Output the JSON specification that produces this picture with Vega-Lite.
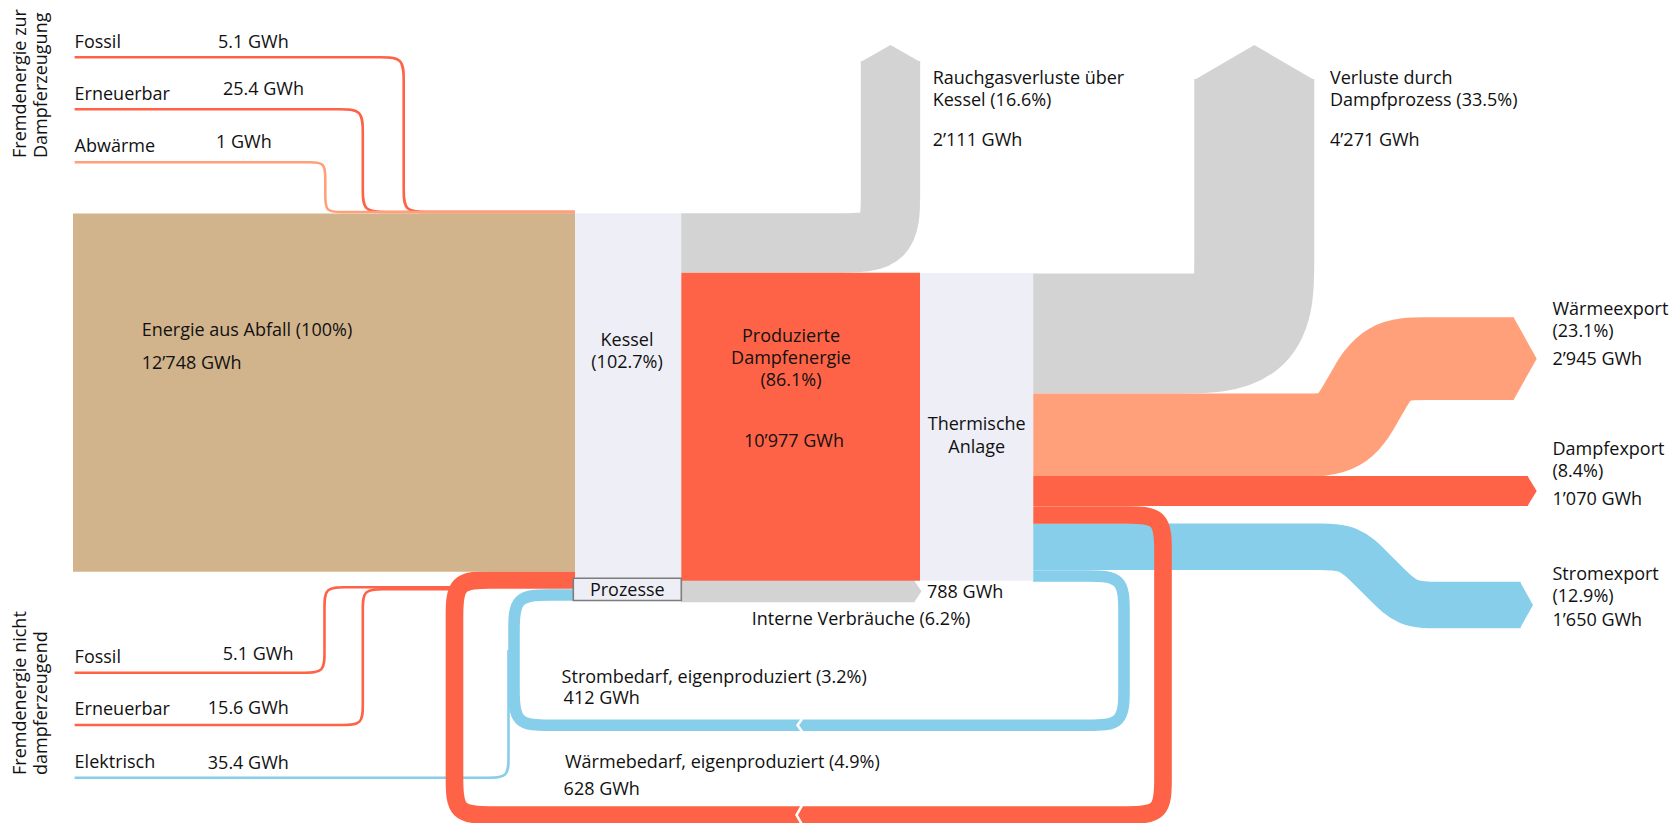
{
  "$schema": "https://vega.github.io/schema/vega-lite/v6.json",
  "width": 1676,
  "height": 823,
  "autosize": {"type": "none"},
  "padding": 0,
  "background": "white",
  "config": {"view": {"stroke": null}},
  "datasets": {
    "flows": [
      {"flow": "Rauchgas", "kind": "Verlust", "gwh": 2111, "i": 0, "x": 681, "y": 243},
      {"flow": "Rauchgas", "kind": "Verlust", "gwh": 2111, "i": 1, "x": 790.5, "y": 243},
      {"flow": "Rauchgas", "kind": "Verlust", "gwh": 2111, "i": 2, "x": 840.5, "y": 243},
      {"flow": "Rauchgas", "kind": "Verlust", "gwh": 2111, "i": 3, "x": 890.5, "y": 243},
      {"flow": "Rauchgas", "kind": "Verlust", "gwh": 2111, "i": 4, "x": 890.5, "y": 193},
      {"flow": "Rauchgas", "kind": "Verlust", "gwh": 2111, "i": 5, "x": 890.5, "y": 143},
      {"flow": "Rauchgas", "kind": "Verlust", "gwh": 2111, "i": 6, "x": 890.5, "y": 61},
      {"flow": "Dampfprozess", "kind": "Verlust", "gwh": 4271, "i": 0, "x": 1033, "y": 333.5},
      {"flow": "Dampfprozess", "kind": "Verlust", "gwh": 4271, "i": 1, "x": 1104.3, "y": 333.5},
      {"flow": "Dampfprozess", "kind": "Verlust", "gwh": 4271, "i": 2, "x": 1179.3, "y": 333.5},
      {"flow": "Dampfprozess", "kind": "Verlust", "gwh": 4271, "i": 3, "x": 1254.3, "y": 333.5},
      {"flow": "Dampfprozess", "kind": "Verlust", "gwh": 4271, "i": 4, "x": 1254.3, "y": 258.5},
      {"flow": "Dampfprozess", "kind": "Verlust", "gwh": 4271, "i": 5, "x": 1254.3, "y": 183.5},
      {"flow": "Dampfprozess", "kind": "Verlust", "gwh": 4271, "i": 6, "x": 1254.3, "y": 79},
      {"flow": "Waermeexport", "kind": "Waerme", "gwh": 2945, "i": 0, "x": 1033, "y": 435},
      {"flow": "Waermeexport", "kind": "Waerme", "gwh": 2945, "i": 1, "x": 1262.5, "y": 435},
      {"flow": "Waermeexport", "kind": "Waerme", "gwh": 2945, "i": 2, "x": 1302.5, "y": 435},
      {"flow": "Waermeexport", "kind": "Waerme", "gwh": 2945, "i": 3, "x": 1342.5, "y": 435},
      {"flow": "Waermeexport", "kind": "Waerme", "gwh": 2945, "i": 4, "x": 1362.5, "y": 400.4},
      {"flow": "Waermeexport", "kind": "Waerme", "gwh": 2945, "i": 5, "x": 1366.5, "y": 393.4},
      {"flow": "Waermeexport", "kind": "Waerme", "gwh": 2945, "i": 6, "x": 1386.5, "y": 358.7},
      {"flow": "Waermeexport", "kind": "Waerme", "gwh": 2945, "i": 7, "x": 1426.5, "y": 358.7},
      {"flow": "Waermeexport", "kind": "Waerme", "gwh": 2945, "i": 8, "x": 1466.5, "y": 358.7},
      {"flow": "Waermeexport", "kind": "Waerme", "gwh": 2945, "i": 9, "x": 1514, "y": 358.7},
      {"flow": "Dampfexport", "kind": "Dampf", "gwh": 1070, "i": 0, "x": 1033, "y": 491},
      {"flow": "Dampfexport", "kind": "Dampf", "gwh": 1070, "i": 1, "x": 1528, "y": 491},
      {"flow": "Stromexport", "kind": "Strom", "gwh": 1650, "i": 0, "x": 1033, "y": 546.8},
      {"flow": "Stromexport", "kind": "Strom", "gwh": 1650, "i": 1, "x": 1289.3, "y": 546.8},
      {"flow": "Stromexport", "kind": "Strom", "gwh": 1650, "i": 2, "x": 1319.3, "y": 546.8},
      {"flow": "Stromexport", "kind": "Strom", "gwh": 1650, "i": 3, "x": 1349.3, "y": 546.8},
      {"flow": "Stromexport", "kind": "Strom", "gwh": 1650, "i": 4, "x": 1370.5, "y": 568},
      {"flow": "Stromexport", "kind": "Strom", "gwh": 1650, "i": 5, "x": 1386.3, "y": 583.8},
      {"flow": "Stromexport", "kind": "Strom", "gwh": 1650, "i": 6, "x": 1407.5, "y": 605},
      {"flow": "Stromexport", "kind": "Strom", "gwh": 1650, "i": 7, "x": 1437.5, "y": 605},
      {"flow": "Stromexport", "kind": "Strom", "gwh": 1650, "i": 8, "x": 1467.5, "y": 605},
      {"flow": "Stromexport", "kind": "Strom", "gwh": 1650, "i": 9, "x": 1520.5, "y": 605},
      {"flow": "Interne", "kind": "Verlust", "gwh": 788, "i": 0, "x": 681, "y": 591.3},
      {"flow": "Interne", "kind": "Verlust", "gwh": 788, "i": 1, "x": 914.5, "y": 591.3}
    ],
    "loops": [
      {"flow": "Waermebedarf", "kind": "Dampf", "gwh": 628, "i": 0, "x": 1033, "y": 515},
      {"flow": "Waermebedarf", "kind": "Dampf", "gwh": 628, "i": 1, "x": 1091, "y": 515},
      {"flow": "Waermebedarf", "kind": "Dampf", "gwh": 628, "i": 2, "x": 1127, "y": 515},
      {"flow": "Waermebedarf", "kind": "Dampf", "gwh": 628, "i": 3, "x": 1163, "y": 515},
      {"flow": "Waermebedarf", "kind": "Dampf", "gwh": 628, "i": 4, "x": 1163, "y": 551},
      {"flow": "Waermebedarf", "kind": "Dampf", "gwh": 628, "i": 5, "x": 1163, "y": 587},
      {"flow": "Waermebedarf", "kind": "Dampf", "gwh": 628, "i": 6, "x": 1163, "y": 743},
      {"flow": "Waermebedarf", "kind": "Dampf", "gwh": 628, "i": 7, "x": 1163, "y": 779},
      {"flow": "Waermebedarf", "kind": "Dampf", "gwh": 628, "i": 8, "x": 1163, "y": 815},
      {"flow": "Waermebedarf", "kind": "Dampf", "gwh": 628, "i": 9, "x": 1127, "y": 815},
      {"flow": "Waermebedarf", "kind": "Dampf", "gwh": 628, "i": 10, "x": 1091, "y": 815},
      {"flow": "Waermebedarf", "kind": "Dampf", "gwh": 628, "i": 11, "x": 526.5, "y": 815},
      {"flow": "Waermebedarf", "kind": "Dampf", "gwh": 628, "i": 12, "x": 490.5, "y": 815},
      {"flow": "Waermebedarf", "kind": "Dampf", "gwh": 628, "i": 13, "x": 454.5, "y": 815},
      {"flow": "Waermebedarf", "kind": "Dampf", "gwh": 628, "i": 14, "x": 454.5, "y": 779},
      {"flow": "Waermebedarf", "kind": "Dampf", "gwh": 628, "i": 15, "x": 454.5, "y": 743},
      {"flow": "Waermebedarf", "kind": "Dampf", "gwh": 628, "i": 16, "x": 454.5, "y": 652},
      {"flow": "Waermebedarf", "kind": "Dampf", "gwh": 628, "i": 17, "x": 454.5, "y": 616},
      {"flow": "Waermebedarf", "kind": "Dampf", "gwh": 628, "i": 18, "x": 454.5, "y": 580},
      {"flow": "Waermebedarf", "kind": "Dampf", "gwh": 628, "i": 19, "x": 490.5, "y": 580},
      {"flow": "Waermebedarf", "kind": "Dampf", "gwh": 628, "i": 20, "x": 526.5, "y": 580},
      {"flow": "Waermebedarf", "kind": "Dampf", "gwh": 628, "i": 21, "x": 575, "y": 580},
      {"flow": "Strombedarf", "kind": "Strom", "gwh": 412, "i": 0, "x": 1033, "y": 576},
      {"flow": "Strombedarf", "kind": "Strom", "gwh": 412, "i": 1, "x": 1052, "y": 576},
      {"flow": "Strombedarf", "kind": "Strom", "gwh": 412, "i": 2, "x": 1088, "y": 576},
      {"flow": "Strombedarf", "kind": "Strom", "gwh": 412, "i": 3, "x": 1124, "y": 576},
      {"flow": "Strombedarf", "kind": "Strom", "gwh": 412, "i": 4, "x": 1124, "y": 612},
      {"flow": "Strombedarf", "kind": "Strom", "gwh": 412, "i": 5, "x": 1124, "y": 648},
      {"flow": "Strombedarf", "kind": "Strom", "gwh": 412, "i": 6, "x": 1124, "y": 653.3},
      {"flow": "Strombedarf", "kind": "Strom", "gwh": 412, "i": 7, "x": 1124, "y": 689.3},
      {"flow": "Strombedarf", "kind": "Strom", "gwh": 412, "i": 8, "x": 1124, "y": 725.3},
      {"flow": "Strombedarf", "kind": "Strom", "gwh": 412, "i": 9, "x": 1088, "y": 725.3},
      {"flow": "Strombedarf", "kind": "Strom", "gwh": 412, "i": 10, "x": 1052, "y": 725.3},
      {"flow": "Strombedarf", "kind": "Strom", "gwh": 412, "i": 11, "x": 586, "y": 725.3},
      {"flow": "Strombedarf", "kind": "Strom", "gwh": 412, "i": 12, "x": 550, "y": 725.3},
      {"flow": "Strombedarf", "kind": "Strom", "gwh": 412, "i": 13, "x": 514, "y": 725.3},
      {"flow": "Strombedarf", "kind": "Strom", "gwh": 412, "i": 14, "x": 514, "y": 689.3},
      {"flow": "Strombedarf", "kind": "Strom", "gwh": 412, "i": 15, "x": 514, "y": 660},
      {"flow": "Strombedarf", "kind": "Strom", "gwh": 412, "i": 16, "x": 514, "y": 631},
      {"flow": "Strombedarf", "kind": "Strom", "gwh": 412, "i": 17, "x": 514, "y": 595},
      {"flow": "Strombedarf", "kind": "Strom", "gwh": 412, "i": 18, "x": 550, "y": 595},
      {"flow": "Strombedarf", "kind": "Strom", "gwh": 412, "i": 19, "x": 575, "y": 595}
    ],
    "thin": [
      {"flow": "FossilOben", "kind": "Dampf", "i": 0, "x": 74.6, "y": 57.3},
      {"flow": "FossilOben", "kind": "Dampf", "i": 1, "x": 357.7, "y": 57.3},
      {"flow": "FossilOben", "kind": "Dampf", "i": 2, "x": 380.7, "y": 57.3},
      {"flow": "FossilOben", "kind": "Dampf", "i": 3, "x": 403.7, "y": 57.3},
      {"flow": "FossilOben", "kind": "Dampf", "i": 4, "x": 403.7, "y": 80.3},
      {"flow": "FossilOben", "kind": "Dampf", "i": 5, "x": 403.7, "y": 103.3},
      {"flow": "FossilOben", "kind": "Dampf", "i": 6, "x": 403.7, "y": 166},
      {"flow": "FossilOben", "kind": "Dampf", "i": 7, "x": 403.7, "y": 189},
      {"flow": "FossilOben", "kind": "Dampf", "i": 8, "x": 403.7, "y": 212},
      {"flow": "FossilOben", "kind": "Dampf", "i": 9, "x": 426.7, "y": 212},
      {"flow": "FossilOben", "kind": "Dampf", "i": 10, "x": 449.7, "y": 212},
      {"flow": "FossilOben", "kind": "Dampf", "i": 11, "x": 575, "y": 212},
      {"flow": "ErneuerbarOben", "kind": "Dampf", "i": 0, "x": 74.6, "y": 109.3},
      {"flow": "ErneuerbarOben", "kind": "Dampf", "i": 1, "x": 316.8, "y": 109.3},
      {"flow": "ErneuerbarOben", "kind": "Dampf", "i": 2, "x": 339.8, "y": 109.3},
      {"flow": "ErneuerbarOben", "kind": "Dampf", "i": 3, "x": 362.8, "y": 109.3},
      {"flow": "ErneuerbarOben", "kind": "Dampf", "i": 4, "x": 362.8, "y": 132.3},
      {"flow": "ErneuerbarOben", "kind": "Dampf", "i": 5, "x": 362.8, "y": 155.3},
      {"flow": "ErneuerbarOben", "kind": "Dampf", "i": 6, "x": 362.8, "y": 166},
      {"flow": "ErneuerbarOben", "kind": "Dampf", "i": 7, "x": 362.8, "y": 189},
      {"flow": "ErneuerbarOben", "kind": "Dampf", "i": 8, "x": 362.8, "y": 212},
      {"flow": "ErneuerbarOben", "kind": "Dampf", "i": 9, "x": 385.8, "y": 212},
      {"flow": "ErneuerbarOben", "kind": "Dampf", "i": 10, "x": 408.8, "y": 212},
      {"flow": "ErneuerbarOben", "kind": "Dampf", "i": 11, "x": 575, "y": 212},
      {"flow": "Abwaerme", "kind": "Waerme", "i": 0, "x": 74.6, "y": 162.3},
      {"flow": "Abwaerme", "kind": "Waerme", "i": 1, "x": 293.3, "y": 162.3},
      {"flow": "Abwaerme", "kind": "Waerme", "i": 2, "x": 309.3, "y": 162.3},
      {"flow": "Abwaerme", "kind": "Waerme", "i": 3, "x": 325.3, "y": 162.3},
      {"flow": "Abwaerme", "kind": "Waerme", "i": 4, "x": 325.3, "y": 178.3},
      {"flow": "Abwaerme", "kind": "Waerme", "i": 5, "x": 325.3, "y": 196},
      {"flow": "Abwaerme", "kind": "Waerme", "i": 6, "x": 325.3, "y": 212},
      {"flow": "Abwaerme", "kind": "Waerme", "i": 7, "x": 341.3, "y": 212},
      {"flow": "Abwaerme", "kind": "Waerme", "i": 8, "x": 357.3, "y": 212},
      {"flow": "Abwaerme", "kind": "Waerme", "i": 9, "x": 575, "y": 212},
      {"flow": "FossilUnten", "kind": "Dampf", "i": 0, "x": 74.6, "y": 672.7},
      {"flow": "FossilUnten", "kind": "Dampf", "i": 1, "x": 284.5, "y": 672.7},
      {"flow": "FossilUnten", "kind": "Dampf", "i": 2, "x": 304.5, "y": 672.7},
      {"flow": "FossilUnten", "kind": "Dampf", "i": 3, "x": 324.5, "y": 672.7},
      {"flow": "FossilUnten", "kind": "Dampf", "i": 4, "x": 324.5, "y": 652.7},
      {"flow": "FossilUnten", "kind": "Dampf", "i": 5, "x": 324.5, "y": 632.7},
      {"flow": "FossilUnten", "kind": "Dampf", "i": 6, "x": 324.5, "y": 627.3},
      {"flow": "FossilUnten", "kind": "Dampf", "i": 7, "x": 324.5, "y": 607.3},
      {"flow": "FossilUnten", "kind": "Dampf", "i": 8, "x": 324.5, "y": 587.3},
      {"flow": "FossilUnten", "kind": "Dampf", "i": 9, "x": 344.5, "y": 587.3},
      {"flow": "FossilUnten", "kind": "Dampf", "i": 10, "x": 364.5, "y": 587.3},
      {"flow": "FossilUnten", "kind": "Dampf", "i": 11, "x": 460, "y": 587.3},
      {"flow": "ErneuerbarUnten", "kind": "Dampf", "i": 0, "x": 74.6, "y": 725},
      {"flow": "ErneuerbarUnten", "kind": "Dampf", "i": 1, "x": 322.8, "y": 725},
      {"flow": "ErneuerbarUnten", "kind": "Dampf", "i": 2, "x": 342.8, "y": 725},
      {"flow": "ErneuerbarUnten", "kind": "Dampf", "i": 3, "x": 362.8, "y": 725},
      {"flow": "ErneuerbarUnten", "kind": "Dampf", "i": 4, "x": 362.8, "y": 705},
      {"flow": "ErneuerbarUnten", "kind": "Dampf", "i": 5, "x": 362.8, "y": 685},
      {"flow": "ErneuerbarUnten", "kind": "Dampf", "i": 6, "x": 362.8, "y": 629.3},
      {"flow": "ErneuerbarUnten", "kind": "Dampf", "i": 7, "x": 362.8, "y": 609.3},
      {"flow": "ErneuerbarUnten", "kind": "Dampf", "i": 8, "x": 362.8, "y": 589.3},
      {"flow": "ErneuerbarUnten", "kind": "Dampf", "i": 9, "x": 382.8, "y": 589.3},
      {"flow": "ErneuerbarUnten", "kind": "Dampf", "i": 10, "x": 402.8, "y": 589.3},
      {"flow": "ErneuerbarUnten", "kind": "Dampf", "i": 11, "x": 460, "y": 589.3},
      {"flow": "Elektrisch", "kind": "Strom", "i": 0, "x": 74.6, "y": 777.7},
      {"flow": "Elektrisch", "kind": "Strom", "i": 1, "x": 468.5, "y": 777.7},
      {"flow": "Elektrisch", "kind": "Strom", "i": 2, "x": 488.5, "y": 777.7},
      {"flow": "Elektrisch", "kind": "Strom", "i": 3, "x": 508.5, "y": 777.7},
      {"flow": "Elektrisch", "kind": "Strom", "i": 4, "x": 508.5, "y": 757.7},
      {"flow": "Elektrisch", "kind": "Strom", "i": 5, "x": 508.5, "y": 737.7},
      {"flow": "Elektrisch", "kind": "Strom", "i": 6, "x": 508.5, "y": 650}
    ],
    "heads": [
      {"flow": "Rauchgas", "kind": "Verlust", "i": 0, "x": 860.7, "y": 62},
      {"flow": "Rauchgas", "kind": "Verlust", "i": 1, "x": 890.5, "y": 45},
      {"flow": "Rauchgas", "kind": "Verlust", "i": 2, "x": 920.3, "y": 62},
      {"flow": "Dampfprozess", "kind": "Verlust", "i": 0, "x": 1194.3, "y": 80},
      {"flow": "Dampfprozess", "kind": "Verlust", "i": 1, "x": 1254.3, "y": 45},
      {"flow": "Dampfprozess", "kind": "Verlust", "i": 2, "x": 1314.3, "y": 80},
      {"flow": "Waermeexport", "kind": "Waerme", "i": 0, "x": 1513.5, "y": 317.3},
      {"flow": "Waermeexport", "kind": "Waerme", "i": 1, "x": 1536.7, "y": 358.7},
      {"flow": "Waermeexport", "kind": "Waerme", "i": 2, "x": 1513.5, "y": 400.1},
      {"flow": "Dampfexport", "kind": "Dampf", "i": 0, "x": 1527.5, "y": 476},
      {"flow": "Dampfexport", "kind": "Dampf", "i": 1, "x": 1536.7, "y": 491},
      {"flow": "Dampfexport", "kind": "Dampf", "i": 2, "x": 1527.5, "y": 506},
      {"flow": "Stromexport", "kind": "Strom", "i": 0, "x": 1520, "y": 581.8},
      {"flow": "Stromexport", "kind": "Strom", "i": 1, "x": 1533, "y": 605},
      {"flow": "Stromexport", "kind": "Strom", "i": 2, "x": 1520, "y": 628.2},
      {"flow": "Interne", "kind": "Verlust", "i": 0, "x": 914, "y": 580.2},
      {"flow": "Interne", "kind": "Verlust", "i": 1, "x": 921.5, "y": 591.3},
      {"flow": "Interne", "kind": "Verlust", "i": 2, "x": 914, "y": 602.4}
    ],
    "notches": [
      {"flow": "KerbeRot", "kind": "Trenner", "i": 0, "x": 802, "y": 805.5},
      {"flow": "KerbeRot", "kind": "Trenner", "i": 1, "x": 796.5, "y": 815},
      {"flow": "KerbeRot", "kind": "Trenner", "i": 2, "x": 802, "y": 824.5},
      {"flow": "KerbeBlau", "kind": "Trenner", "i": 0, "x": 802, "y": 719},
      {"flow": "KerbeBlau", "kind": "Trenner", "i": 1, "x": 797.5, "y": 725.3},
      {"flow": "KerbeBlau", "kind": "Trenner", "i": 2, "x": 802, "y": 731.6}
    ],
    "boxes": [
      {"node": "Energie aus Abfall", "kind": "Abfall", "x": 73, "x2": 575, "y": 213.5, "y2": 571.7},
      {"node": "Kessel", "kind": "Anlage", "x": 575, "x2": 681.3, "y": 213.3, "y2": 578.3},
      {"node": "Produzierte Dampfenergie", "kind": "Dampf", "x": 681.3, "x2": 920, "y": 272.7, "y2": 580.7},
      {"node": "Thermische Anlage", "kind": "Anlage", "x": 920, "x2": 1033.3, "y": 273, "y2": 580.7}
    ],
    "prozesse": [
      {"node": "Prozesse", "kind": "Anlage", "x": 573.3, "x2": 681.3, "y": 578.3, "y2": 600.5}
    ],
    "labels": [
      {"text": "Fossil", "x": 74.6, "y": 48.3},
      {"text": "5.1 GWh", "x": 218, "y": 48.3},
      {"text": "Erneuerbar", "x": 74.6, "y": 100},
      {"text": "25.4 GWh", "x": 223, "y": 94.5},
      {"text": "Abwärme", "x": 74.6, "y": 151.7},
      {"text": "1 GWh", "x": 216, "y": 148.3},
      {"text": "Fossil", "x": 74.6, "y": 663.3},
      {"text": "5.1 GWh", "x": 222.7, "y": 660},
      {"text": "Erneuerbar", "x": 74.6, "y": 715},
      {"text": "15.6 GWh", "x": 207.8, "y": 714},
      {"text": "Elektrisch", "x": 74.6, "y": 768.3},
      {"text": "35.4 GWh", "x": 207.8, "y": 769.3},
      {"text": "Energie aus Abfall (100%)", "x": 141.7, "y": 336},
      {"text": "12’748 GWh", "x": 141.7, "y": 369},
      {"text": "Rauchgasverluste über", "x": 932.7, "y": 84},
      {"text": "Kessel (16.6%)", "x": 932.7, "y": 106},
      {"text": "2’111 GWh", "x": 932.7, "y": 145.7},
      {"text": "Verluste durch", "x": 1330, "y": 84},
      {"text": "Dampfprozess (33.5%)", "x": 1330, "y": 106},
      {"text": "4’271 GWh", "x": 1330, "y": 145.7},
      {"text": "Wärmeexport", "x": 1552.5, "y": 315},
      {"text": "(23.1%)", "x": 1552.5, "y": 337.3},
      {"text": "2’945 GWh", "x": 1552.5, "y": 365},
      {"text": "Dampfexport", "x": 1552.5, "y": 455},
      {"text": "(8.4%)", "x": 1552.5, "y": 476.7},
      {"text": "1’070 GWh", "x": 1552.5, "y": 505},
      {"text": "Stromexport", "x": 1552.5, "y": 579.5},
      {"text": "(12.9%)", "x": 1552.5, "y": 601.5},
      {"text": "1’650 GWh", "x": 1552.5, "y": 625.7},
      {"text": "788 GWh", "x": 927, "y": 598},
      {"text": "Interne Verbräuche (6.2%)", "x": 751.7, "y": 624.5},
      {"text": "Strombedarf, eigenproduziert (3.2%)", "x": 561.6, "y": 683},
      {"text": "412 GWh", "x": 563.6, "y": 704},
      {"text": "Wärmebedarf, eigenproduziert (4.9%)", "x": 565, "y": 768.3},
      {"text": "628 GWh", "x": 563.6, "y": 795}
    ],
    "labelsCenter": [
      {"text": "Kessel", "x": 627, "y": 345.5},
      {"text": "(102.7%)", "x": 627, "y": 367.5},
      {"text": "Produzierte", "x": 791, "y": 341.5},
      {"text": "Dampfenergie", "x": 791, "y": 363.5},
      {"text": "(86.1%)", "x": 791, "y": 385.5},
      {"text": "10’977 GWh", "x": 794, "y": 447.3},
      {"text": "Thermische", "x": 976.7, "y": 429.5},
      {"text": "Anlage", "x": 976.7, "y": 452.7},
      {"text": "Prozesse", "x": 627.3, "y": 596}
    ],
    "labelsVertical": [
      {"text": "Fremdenergie zur", "x": 21, "y": 158},
      {"text": "Dampferzeugung", "x": 42, "y": 158},
      {"text": "Fremdenergie nicht", "x": 21, "y": 775},
      {"text": "dampferzeugend", "x": 42, "y": 775}
    ]
  },
  "encoding": {
    "x": {"field": "x", "type": "quantitative", "scale": {"domain": [0, 1676], "nice": false, "zero": false}, "axis": null},
    "y": {"field": "y", "type": "quantitative", "scale": {"domain": [0, 823], "nice": false, "zero": false, "reverse": true}, "axis": null}
  },
  "layer": [
    {
      "data": {"name": "flows"},
      "mark": {"type": "line", "interpolate": "basis", "strokeCap": "butt"},
      "encoding": {
        "detail": {"field": "flow", "type": "nominal"},
        "order": {"field": "i", "type": "quantitative"},
        "size": {"field": "gwh", "type": "quantitative", "scale": {"domain": [0, 12748], "range": [0, 358.2], "nice": false, "zero": true}, "legend": null},
        "color": {"field": "kind", "type": "nominal", "scale": {"domain": ["Verlust", "Waerme", "Dampf", "Strom", "Abfall", "Anlage", "Trenner"], "range": ["#d3d3d3", "#ffa07a", "#ff6347", "#87ceeb", "#d2b48c", "#eeeef6", "#ffffff"]}, "legend": null}
      }
    },
    {
      "data": {"name": "thin"},
      "mark": {"type": "line", "interpolate": "basis", "strokeWidth": 2.6},
      "encoding": {
        "detail": {"field": "flow", "type": "nominal"},
        "order": {"field": "i", "type": "quantitative"},
        "color": {"field": "kind", "type": "nominal", "scale": {"domain": ["Verlust", "Waerme", "Dampf", "Strom", "Abfall", "Anlage", "Trenner"], "range": ["#d3d3d3", "#ffa07a", "#ff6347", "#87ceeb", "#d2b48c", "#eeeef6", "#ffffff"]}, "legend": null}
      }
    },
    {
      "data": {"name": "loops"},
      "mark": {"type": "line", "interpolate": "basis", "strokeCap": "butt"},
      "encoding": {
        "detail": {"field": "flow", "type": "nominal"},
        "order": {"field": "i", "type": "quantitative"},
        "size": {"field": "gwh", "type": "quantitative", "scale": {"domain": [0, 12748], "range": [0, 358.2], "nice": false, "zero": true}, "legend": null},
        "color": {"field": "kind", "type": "nominal", "scale": {"domain": ["Verlust", "Waerme", "Dampf", "Strom", "Abfall", "Anlage", "Trenner"], "range": ["#d3d3d3", "#ffa07a", "#ff6347", "#87ceeb", "#d2b48c", "#eeeef6", "#ffffff"]}, "legend": null}
      }
    },
    {
      "data": {"name": "heads"},
      "mark": {"type": "line", "filled": true, "interpolate": "linear-closed"},
      "encoding": {
        "detail": {"field": "flow", "type": "nominal"},
        "order": {"field": "i", "type": "quantitative"},
        "color": {"field": "kind", "type": "nominal", "scale": {"domain": ["Verlust", "Waerme", "Dampf", "Strom", "Abfall", "Anlage", "Trenner"], "range": ["#d3d3d3", "#ffa07a", "#ff6347", "#87ceeb", "#d2b48c", "#eeeef6", "#ffffff"]}, "legend": null}
      }
    },
    {
      "data": {"name": "notches"},
      "mark": {"type": "line", "interpolate": "linear", "strokeWidth": 2.5},
      "encoding": {
        "detail": {"field": "flow", "type": "nominal"},
        "order": {"field": "i", "type": "quantitative"},
        "color": {"field": "kind", "type": "nominal", "scale": {"domain": ["Verlust", "Waerme", "Dampf", "Strom", "Abfall", "Anlage", "Trenner"], "range": ["#d3d3d3", "#ffa07a", "#ff6347", "#87ceeb", "#d2b48c", "#eeeef6", "#ffffff"]}, "legend": null}
      }
    },
    {
      "data": {"name": "boxes"},
      "mark": {"type": "rect"},
      "encoding": {
        "x2": {"field": "x2"},
        "y2": {"field": "y2"},
        "color": {"field": "kind", "type": "nominal", "scale": {"domain": ["Verlust", "Waerme", "Dampf", "Strom", "Abfall", "Anlage", "Trenner"], "range": ["#d3d3d3", "#ffa07a", "#ff6347", "#87ceeb", "#d2b48c", "#eeeef6", "#ffffff"]}, "legend": null}
      }
    },
    {
      "data": {"name": "prozesse"},
      "mark": {"type": "rect", "stroke": "#7d7d7d", "strokeWidth": 1.6},
      "encoding": {
        "x2": {"field": "x2"},
        "y2": {"field": "y2"},
        "color": {"field": "kind", "type": "nominal", "scale": {"domain": ["Verlust", "Waerme", "Dampf", "Strom", "Abfall", "Anlage", "Trenner"], "range": ["#d3d3d3", "#ffa07a", "#ff6347", "#87ceeb", "#d2b48c", "#eeeef6", "#ffffff"]}, "legend": null}
      }
    },
    {
      "data": {"name": "labels"},
      "mark": {"type": "text", "align": "left", "baseline": "alphabetic", "font": "Open Sans", "fontSize": 18, "color": "#111111"},
      "encoding": {"text": {"field": "text", "type": "nominal"}}
    },
    {
      "data": {"name": "labelsCenter"},
      "mark": {"type": "text", "align": "center", "baseline": "alphabetic", "font": "Open Sans", "fontSize": 18, "color": "#111111"},
      "encoding": {"text": {"field": "text", "type": "nominal"}}
    },
    {
      "data": {"name": "labelsVertical"},
      "mark": {"type": "text", "align": "left", "baseline": "middle", "angle": 270, "font": "Open Sans", "fontSize": 18, "color": "#111111"},
      "encoding": {"text": {"field": "text", "type": "nominal"}}
    }
  ]
}
